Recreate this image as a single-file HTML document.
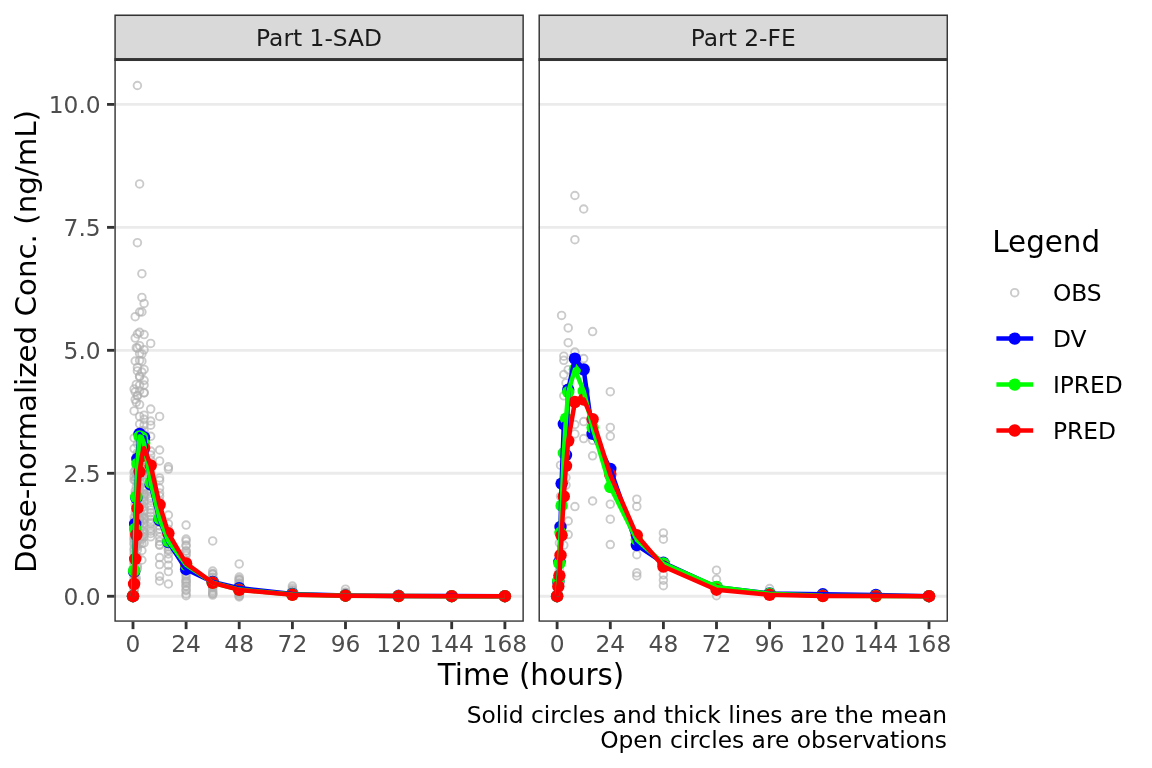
<!DOCTYPE html>
<html><head><meta charset="utf-8"><title>Mean concentration-time profile</title>
<style>html,body{margin:0;padding:0;background:#fff}svg{display:block}text{font-family:"DejaVu Sans","Liberation Sans",sans-serif}</style></head><body>
<svg width="1152" height="768" viewBox="0 0 1152 768">
<rect width="1152" height="768" fill="#fff"/>
<g>
<clipPath id="cp0"><rect x="114.37" y="59.6" width="409.47" height="562.1999999999999"/></clipPath>
<line x1="114.37" x2="523.84" y1="596.25" y2="596.25" stroke="#EBEBEB" stroke-width="2.85"/>
<line x1="114.37" x2="523.84" y1="473.29" y2="473.29" stroke="#EBEBEB" stroke-width="2.85"/>
<line x1="114.37" x2="523.84" y1="350.32" y2="350.32" stroke="#EBEBEB" stroke-width="2.85"/>
<line x1="114.37" x2="523.84" y1="227.36" y2="227.36" stroke="#EBEBEB" stroke-width="2.85"/>
<line x1="114.37" x2="523.84" y1="104.40" y2="104.40" stroke="#EBEBEB" stroke-width="2.85"/>
<g clip-path="url(#cp0)">
<g fill="none" stroke="#B0B0B0" stroke-opacity="0.66" stroke-width="1.9">
<circle cx="133.0" cy="596.0" r="3.8"/>
<circle cx="133.0" cy="596.0" r="3.8"/>
<circle cx="133.0" cy="596.0" r="3.8"/>
<circle cx="134.1" cy="389.1" r="3.8"/>
<circle cx="134.1" cy="410.9" r="3.8"/>
<circle cx="134.1" cy="438.0" r="3.8"/>
<circle cx="134.1" cy="448.6" r="3.8"/>
<circle cx="134.1" cy="476.7" r="3.8"/>
<circle cx="134.1" cy="472.0" r="3.8"/>
<circle cx="134.1" cy="480.0" r="3.8"/>
<circle cx="134.1" cy="517.0" r="3.8"/>
<circle cx="134.1" cy="524.0" r="3.8"/>
<circle cx="134.1" cy="532.0" r="3.8"/>
<circle cx="134.1" cy="540.0" r="3.8"/>
<circle cx="134.1" cy="521.0" r="3.8"/>
<circle cx="134.1" cy="523.5" r="3.8"/>
<circle cx="134.1" cy="528.1" r="3.8"/>
<circle cx="134.1" cy="529.3" r="3.8"/>
<circle cx="134.1" cy="533.8" r="3.8"/>
<circle cx="134.1" cy="536.3" r="3.8"/>
<circle cx="134.1" cy="538.4" r="3.8"/>
<circle cx="134.1" cy="542.8" r="3.8"/>
<circle cx="134.1" cy="544.4" r="3.8"/>
<circle cx="134.1" cy="548.7" r="3.8"/>
<circle cx="134.1" cy="550.6" r="3.8"/>
<circle cx="134.1" cy="553.7" r="3.8"/>
<circle cx="134.1" cy="557.8" r="3.8"/>
<circle cx="134.1" cy="562.0" r="3.8"/>
<circle cx="134.1" cy="562.9" r="3.8"/>
<circle cx="134.1" cy="566.3" r="3.8"/>
<circle cx="134.1" cy="570.5" r="3.8"/>
<circle cx="134.1" cy="574.6" r="3.8"/>
<circle cx="134.1" cy="576.5" r="3.8"/>
<circle cx="134.1" cy="579.0" r="3.8"/>
<circle cx="134.1" cy="583.8" r="3.8"/>
<circle cx="134.1" cy="584.0" r="3.8"/>
<circle cx="134.1" cy="589.5" r="3.8"/>
<circle cx="134.1" cy="590.8" r="3.8"/>
<circle cx="134.1" cy="593.4" r="3.8"/>
<circle cx="135.2" cy="316.7" r="3.8"/>
<circle cx="135.2" cy="338.1" r="3.8"/>
<circle cx="135.2" cy="361.0" r="3.8"/>
<circle cx="135.2" cy="391.8" r="3.8"/>
<circle cx="135.2" cy="399.6" r="3.8"/>
<circle cx="135.2" cy="470.9" r="3.8"/>
<circle cx="135.2" cy="479.8" r="3.8"/>
<circle cx="135.2" cy="491.1" r="3.8"/>
<circle cx="135.2" cy="493.9" r="3.8"/>
<circle cx="135.2" cy="504.4" r="3.8"/>
<circle cx="135.2" cy="512.3" r="3.8"/>
<circle cx="135.2" cy="517.8" r="3.8"/>
<circle cx="135.2" cy="526.6" r="3.8"/>
<circle cx="135.2" cy="530.5" r="3.8"/>
<circle cx="135.2" cy="537.9" r="3.8"/>
<circle cx="135.2" cy="546.5" r="3.8"/>
<circle cx="135.2" cy="557.6" r="3.8"/>
<circle cx="135.2" cy="563.2" r="3.8"/>
<circle cx="135.2" cy="569.9" r="3.8"/>
<circle cx="135.2" cy="579.4" r="3.8"/>
<circle cx="135.2" cy="585.9" r="3.8"/>
<circle cx="136.3" cy="347.7" r="3.8"/>
<circle cx="136.3" cy="384.4" r="3.8"/>
<circle cx="136.3" cy="402.3" r="3.8"/>
<circle cx="136.3" cy="457.1" r="3.8"/>
<circle cx="136.3" cy="467.5" r="3.8"/>
<circle cx="136.3" cy="473.7" r="3.8"/>
<circle cx="136.3" cy="477.5" r="3.8"/>
<circle cx="136.3" cy="486.8" r="3.8"/>
<circle cx="136.3" cy="493.4" r="3.8"/>
<circle cx="136.3" cy="502.7" r="3.8"/>
<circle cx="136.3" cy="508.7" r="3.8"/>
<circle cx="136.3" cy="512.6" r="3.8"/>
<circle cx="136.3" cy="524.3" r="3.8"/>
<circle cx="136.3" cy="525.3" r="3.8"/>
<circle cx="136.3" cy="534.3" r="3.8"/>
<circle cx="136.3" cy="543.6" r="3.8"/>
<circle cx="136.3" cy="546.3" r="3.8"/>
<circle cx="136.3" cy="555.6" r="3.8"/>
<circle cx="136.3" cy="559.4" r="3.8"/>
<circle cx="136.3" cy="570.8" r="3.8"/>
<circle cx="136.3" cy="578.4" r="3.8"/>
<circle cx="137.4" cy="85.5" r="3.8"/>
<circle cx="137.4" cy="242.7" r="3.8"/>
<circle cx="137.4" cy="334.0" r="3.8"/>
<circle cx="137.4" cy="348.1" r="3.8"/>
<circle cx="137.4" cy="367.4" r="3.8"/>
<circle cx="137.4" cy="370.9" r="3.8"/>
<circle cx="137.4" cy="395.5" r="3.8"/>
<circle cx="137.4" cy="395.9" r="3.8"/>
<circle cx="137.4" cy="443.9" r="3.8"/>
<circle cx="137.4" cy="452.7" r="3.8"/>
<circle cx="137.4" cy="455.6" r="3.8"/>
<circle cx="137.4" cy="464.9" r="3.8"/>
<circle cx="137.4" cy="471.0" r="3.8"/>
<circle cx="137.4" cy="477.7" r="3.8"/>
<circle cx="137.4" cy="483.6" r="3.8"/>
<circle cx="137.4" cy="492.9" r="3.8"/>
<circle cx="137.4" cy="500.4" r="3.8"/>
<circle cx="137.4" cy="504.0" r="3.8"/>
<circle cx="137.4" cy="512.0" r="3.8"/>
<circle cx="137.4" cy="514.7" r="3.8"/>
<circle cx="137.4" cy="525.7" r="3.8"/>
<circle cx="137.4" cy="532.1" r="3.8"/>
<circle cx="137.4" cy="541.2" r="3.8"/>
<circle cx="137.4" cy="546.8" r="3.8"/>
<circle cx="137.4" cy="549.9" r="3.8"/>
<circle cx="137.4" cy="557.4" r="3.8"/>
<circle cx="137.4" cy="566.0" r="3.8"/>
<circle cx="137.4" cy="568.4" r="3.8"/>
<circle cx="139.6" cy="183.9" r="3.8"/>
<circle cx="139.6" cy="312.0" r="3.8"/>
<circle cx="139.6" cy="332.3" r="3.8"/>
<circle cx="139.6" cy="345.7" r="3.8"/>
<circle cx="139.6" cy="353.4" r="3.8"/>
<circle cx="139.6" cy="360.4" r="3.8"/>
<circle cx="139.6" cy="376.2" r="3.8"/>
<circle cx="139.6" cy="376.8" r="3.8"/>
<circle cx="139.6" cy="385.0" r="3.8"/>
<circle cx="139.6" cy="390.9" r="3.8"/>
<circle cx="139.6" cy="404.6" r="3.8"/>
<circle cx="139.6" cy="416.4" r="3.8"/>
<circle cx="139.6" cy="424.0" r="3.8"/>
<circle cx="139.6" cy="432.0" r="3.8"/>
<circle cx="139.6" cy="435.2" r="3.8"/>
<circle cx="139.6" cy="439.4" r="3.8"/>
<circle cx="139.6" cy="443.5" r="3.8"/>
<circle cx="139.6" cy="451.1" r="3.8"/>
<circle cx="139.6" cy="452.7" r="3.8"/>
<circle cx="139.6" cy="457.6" r="3.8"/>
<circle cx="139.6" cy="462.7" r="3.8"/>
<circle cx="139.6" cy="469.2" r="3.8"/>
<circle cx="139.6" cy="470.2" r="3.8"/>
<circle cx="139.6" cy="476.2" r="3.8"/>
<circle cx="139.6" cy="481.1" r="3.8"/>
<circle cx="139.6" cy="487.0" r="3.8"/>
<circle cx="139.6" cy="491.1" r="3.8"/>
<circle cx="139.6" cy="495.7" r="3.8"/>
<circle cx="139.6" cy="497.6" r="3.8"/>
<circle cx="139.6" cy="502.6" r="3.8"/>
<circle cx="139.6" cy="506.8" r="3.8"/>
<circle cx="139.6" cy="513.5" r="3.8"/>
<circle cx="139.6" cy="518.3" r="3.8"/>
<circle cx="139.6" cy="519.1" r="3.8"/>
<circle cx="139.6" cy="523.7" r="3.8"/>
<circle cx="139.6" cy="528.3" r="3.8"/>
<circle cx="139.6" cy="532.8" r="3.8"/>
<circle cx="139.6" cy="538.3" r="3.8"/>
<circle cx="139.6" cy="543.2" r="3.8"/>
<circle cx="141.9" cy="273.7" r="3.8"/>
<circle cx="141.9" cy="297.4" r="3.8"/>
<circle cx="141.9" cy="312.0" r="3.8"/>
<circle cx="141.9" cy="353.9" r="3.8"/>
<circle cx="141.9" cy="361.2" r="3.8"/>
<circle cx="141.9" cy="372.1" r="3.8"/>
<circle cx="141.9" cy="550.5" r="3.8"/>
<circle cx="141.9" cy="560.0" r="3.8"/>
<circle cx="141.9" cy="431.2" r="3.8"/>
<circle cx="141.9" cy="434.6" r="3.8"/>
<circle cx="141.9" cy="441.0" r="3.8"/>
<circle cx="141.9" cy="445.3" r="3.8"/>
<circle cx="141.9" cy="450.7" r="3.8"/>
<circle cx="141.9" cy="457.0" r="3.8"/>
<circle cx="141.9" cy="460.4" r="3.8"/>
<circle cx="141.9" cy="464.1" r="3.8"/>
<circle cx="141.9" cy="469.1" r="3.8"/>
<circle cx="141.9" cy="473.9" r="3.8"/>
<circle cx="141.9" cy="475.6" r="3.8"/>
<circle cx="141.9" cy="484.0" r="3.8"/>
<circle cx="141.9" cy="488.0" r="3.8"/>
<circle cx="141.9" cy="493.0" r="3.8"/>
<circle cx="141.9" cy="497.2" r="3.8"/>
<circle cx="141.9" cy="499.9" r="3.8"/>
<circle cx="141.9" cy="504.4" r="3.8"/>
<circle cx="141.9" cy="507.6" r="3.8"/>
<circle cx="141.9" cy="514.6" r="3.8"/>
<circle cx="141.9" cy="516.5" r="3.8"/>
<circle cx="141.9" cy="521.1" r="3.8"/>
<circle cx="141.9" cy="526.3" r="3.8"/>
<circle cx="141.9" cy="530.6" r="3.8"/>
<circle cx="141.9" cy="535.9" r="3.8"/>
<circle cx="141.9" cy="539.2" r="3.8"/>
<circle cx="141.9" cy="543.5" r="3.8"/>
<circle cx="144.1" cy="303.4" r="3.8"/>
<circle cx="144.1" cy="334.6" r="3.8"/>
<circle cx="144.1" cy="349.8" r="3.8"/>
<circle cx="144.1" cy="369.4" r="3.8"/>
<circle cx="144.1" cy="380.3" r="3.8"/>
<circle cx="144.1" cy="385.0" r="3.8"/>
<circle cx="144.1" cy="392.6" r="3.8"/>
<circle cx="144.1" cy="392.9" r="3.8"/>
<circle cx="144.1" cy="415.2" r="3.8"/>
<circle cx="144.1" cy="419.3" r="3.8"/>
<circle cx="144.1" cy="425.0" r="3.8"/>
<circle cx="144.1" cy="430.7" r="3.8"/>
<circle cx="144.1" cy="434.9" r="3.8"/>
<circle cx="144.1" cy="440.5" r="3.8"/>
<circle cx="144.1" cy="443.4" r="3.8"/>
<circle cx="144.1" cy="451.6" r="3.8"/>
<circle cx="144.1" cy="454.8" r="3.8"/>
<circle cx="144.1" cy="457.2" r="3.8"/>
<circle cx="144.1" cy="462.1" r="3.8"/>
<circle cx="144.1" cy="466.9" r="3.8"/>
<circle cx="144.1" cy="471.4" r="3.8"/>
<circle cx="144.1" cy="474.8" r="3.8"/>
<circle cx="144.1" cy="482.4" r="3.8"/>
<circle cx="144.1" cy="487.5" r="3.8"/>
<circle cx="144.1" cy="489.6" r="3.8"/>
<circle cx="144.1" cy="494.1" r="3.8"/>
<circle cx="144.1" cy="496.7" r="3.8"/>
<circle cx="144.1" cy="501.2" r="3.8"/>
<circle cx="144.1" cy="506.7" r="3.8"/>
<circle cx="144.1" cy="510.8" r="3.8"/>
<circle cx="144.1" cy="517.7" r="3.8"/>
<circle cx="144.1" cy="519.2" r="3.8"/>
<circle cx="144.1" cy="523.0" r="3.8"/>
<circle cx="144.1" cy="531.5" r="3.8"/>
<circle cx="144.1" cy="534.1" r="3.8"/>
<circle cx="144.1" cy="536.8" r="3.8"/>
<circle cx="144.1" cy="543.0" r="3.8"/>
<circle cx="150.7" cy="343.4" r="3.8"/>
<circle cx="150.7" cy="409.1" r="3.8"/>
<circle cx="150.7" cy="421.0" r="3.8"/>
<circle cx="150.7" cy="425.2" r="3.8"/>
<circle cx="150.7" cy="436.3" r="3.8"/>
<circle cx="150.7" cy="451.0" r="3.8"/>
<circle cx="150.7" cy="455.0" r="3.8"/>
<circle cx="150.7" cy="460.1" r="3.8"/>
<circle cx="150.7" cy="465.1" r="3.8"/>
<circle cx="150.7" cy="469.9" r="3.8"/>
<circle cx="150.7" cy="472.9" r="3.8"/>
<circle cx="150.7" cy="475.7" r="3.8"/>
<circle cx="150.7" cy="477.5" r="3.8"/>
<circle cx="150.7" cy="481.2" r="3.8"/>
<circle cx="150.7" cy="483.9" r="3.8"/>
<circle cx="150.7" cy="489.2" r="3.8"/>
<circle cx="150.7" cy="491.8" r="3.8"/>
<circle cx="150.7" cy="495.9" r="3.8"/>
<circle cx="150.7" cy="497.8" r="3.8"/>
<circle cx="150.7" cy="500.7" r="3.8"/>
<circle cx="150.7" cy="506.0" r="3.8"/>
<circle cx="150.7" cy="509.9" r="3.8"/>
<circle cx="150.7" cy="512.8" r="3.8"/>
<circle cx="150.7" cy="516.0" r="3.8"/>
<circle cx="150.7" cy="519.4" r="3.8"/>
<circle cx="150.7" cy="522.5" r="3.8"/>
<circle cx="150.7" cy="524.1" r="3.8"/>
<circle cx="150.7" cy="528.4" r="3.8"/>
<circle cx="150.7" cy="531.2" r="3.8"/>
<circle cx="150.7" cy="533.4" r="3.8"/>
<circle cx="150.7" cy="536.8" r="3.8"/>
<circle cx="159.6" cy="416.4" r="3.8"/>
<circle cx="159.6" cy="450.0" r="3.8"/>
<circle cx="159.6" cy="460.9" r="3.8"/>
<circle cx="159.6" cy="477.9" r="3.8"/>
<circle cx="159.6" cy="480.4" r="3.8"/>
<circle cx="159.6" cy="488.0" r="3.8"/>
<circle cx="159.6" cy="545.3" r="3.8"/>
<circle cx="159.6" cy="557.6" r="3.8"/>
<circle cx="159.6" cy="564.6" r="3.8"/>
<circle cx="159.6" cy="576.3" r="3.8"/>
<circle cx="159.6" cy="581.0" r="3.8"/>
<circle cx="159.6" cy="492.9" r="3.8"/>
<circle cx="159.6" cy="496.2" r="3.8"/>
<circle cx="159.6" cy="500.9" r="3.8"/>
<circle cx="159.6" cy="505.1" r="3.8"/>
<circle cx="159.6" cy="506.7" r="3.8"/>
<circle cx="159.6" cy="511.7" r="3.8"/>
<circle cx="159.6" cy="515.1" r="3.8"/>
<circle cx="159.6" cy="518.4" r="3.8"/>
<circle cx="159.6" cy="519.7" r="3.8"/>
<circle cx="159.6" cy="522.5" r="3.8"/>
<circle cx="159.6" cy="525.9" r="3.8"/>
<circle cx="159.6" cy="529.1" r="3.8"/>
<circle cx="159.6" cy="532.4" r="3.8"/>
<circle cx="159.6" cy="537.1" r="3.8"/>
<circle cx="159.6" cy="541.4" r="3.8"/>
<circle cx="159.6" cy="544.5" r="3.8"/>
<circle cx="168.4" cy="466.8" r="3.8"/>
<circle cx="168.4" cy="469.1" r="3.8"/>
<circle cx="168.4" cy="515.0" r="3.8"/>
<circle cx="168.4" cy="523.8" r="3.8"/>
<circle cx="168.4" cy="550.5" r="3.8"/>
<circle cx="168.4" cy="554.0" r="3.8"/>
<circle cx="168.4" cy="558.8" r="3.8"/>
<circle cx="168.4" cy="565.2" r="3.8"/>
<circle cx="168.4" cy="571.6" r="3.8"/>
<circle cx="168.4" cy="584.0" r="3.8"/>
<circle cx="168.4" cy="529.3" r="3.8"/>
<circle cx="168.4" cy="532.5" r="3.8"/>
<circle cx="168.4" cy="535.7" r="3.8"/>
<circle cx="168.4" cy="536.5" r="3.8"/>
<circle cx="168.4" cy="540.8" r="3.8"/>
<circle cx="168.4" cy="544.3" r="3.8"/>
<circle cx="168.4" cy="546.7" r="3.8"/>
<circle cx="168.4" cy="549.3" r="3.8"/>
<circle cx="186.1" cy="525.1" r="3.8"/>
<circle cx="186.1" cy="539.1" r="3.8"/>
<circle cx="186.1" cy="541.0" r="3.8"/>
<circle cx="186.1" cy="545.0" r="3.8"/>
<circle cx="186.1" cy="546.0" r="3.8"/>
<circle cx="186.1" cy="550.9" r="3.8"/>
<circle cx="186.1" cy="551.0" r="3.8"/>
<circle cx="186.1" cy="576.3" r="3.8"/>
<circle cx="186.1" cy="581.0" r="3.8"/>
<circle cx="186.1" cy="585.7" r="3.8"/>
<circle cx="186.1" cy="590.4" r="3.8"/>
<circle cx="186.1" cy="593.9" r="3.8"/>
<circle cx="186.1" cy="553.4" r="3.8"/>
<circle cx="186.1" cy="555.5" r="3.8"/>
<circle cx="186.1" cy="560.4" r="3.8"/>
<circle cx="186.1" cy="562.0" r="3.8"/>
<circle cx="186.1" cy="566.4" r="3.8"/>
<circle cx="186.1" cy="569.9" r="3.8"/>
<circle cx="186.1" cy="571.2" r="3.8"/>
<circle cx="186.1" cy="574.2" r="3.8"/>
<circle cx="186.1" cy="579.2" r="3.8"/>
<circle cx="186.1" cy="581.7" r="3.8"/>
<circle cx="186.1" cy="583.2" r="3.8"/>
<circle cx="186.1" cy="586.4" r="3.8"/>
<circle cx="186.1" cy="589.8" r="3.8"/>
<circle cx="186.1" cy="595.7" r="3.8"/>
<circle cx="212.7" cy="540.9" r="3.8"/>
<circle cx="212.7" cy="571.0" r="3.8"/>
<circle cx="212.7" cy="574.0" r="3.8"/>
<circle cx="212.7" cy="577.0" r="3.8"/>
<circle cx="212.7" cy="580.0" r="3.8"/>
<circle cx="212.7" cy="583.0" r="3.8"/>
<circle cx="212.7" cy="587.0" r="3.8"/>
<circle cx="212.7" cy="590.4" r="3.8"/>
<circle cx="212.7" cy="594.0" r="3.8"/>
<circle cx="212.7" cy="573.6" r="3.8"/>
<circle cx="212.7" cy="574.3" r="3.8"/>
<circle cx="212.7" cy="577.7" r="3.8"/>
<circle cx="212.7" cy="580.0" r="3.8"/>
<circle cx="212.7" cy="581.3" r="3.8"/>
<circle cx="212.7" cy="582.7" r="3.8"/>
<circle cx="212.7" cy="585.1" r="3.8"/>
<circle cx="212.7" cy="586.3" r="3.8"/>
<circle cx="212.7" cy="588.0" r="3.8"/>
<circle cx="212.7" cy="591.9" r="3.8"/>
<circle cx="212.7" cy="593.3" r="3.8"/>
<circle cx="212.7" cy="595.1" r="3.8"/>
<circle cx="239.2" cy="563.9" r="3.8"/>
<circle cx="239.2" cy="577.0" r="3.8"/>
<circle cx="239.2" cy="579.0" r="3.8"/>
<circle cx="239.2" cy="583.0" r="3.8"/>
<circle cx="239.2" cy="587.0" r="3.8"/>
<circle cx="239.2" cy="590.0" r="3.8"/>
<circle cx="239.2" cy="593.0" r="3.8"/>
<circle cx="239.2" cy="595.5" r="3.8"/>
<circle cx="239.2" cy="597.0" r="3.8"/>
<circle cx="239.2" cy="579.6" r="3.8"/>
<circle cx="239.2" cy="580.5" r="3.8"/>
<circle cx="239.2" cy="583.0" r="3.8"/>
<circle cx="239.2" cy="584.6" r="3.8"/>
<circle cx="239.2" cy="585.3" r="3.8"/>
<circle cx="239.2" cy="587.1" r="3.8"/>
<circle cx="239.2" cy="588.9" r="3.8"/>
<circle cx="239.2" cy="590.5" r="3.8"/>
<circle cx="239.2" cy="592.8" r="3.8"/>
<circle cx="239.2" cy="594.0" r="3.8"/>
<circle cx="239.2" cy="596.0" r="3.8"/>
<circle cx="292.4" cy="586.1" r="3.8"/>
<circle cx="292.4" cy="590.0" r="3.8"/>
<circle cx="292.4" cy="593.0" r="3.8"/>
<circle cx="292.4" cy="595.0" r="3.8"/>
<circle cx="292.4" cy="588.2" r="3.8"/>
<circle cx="292.4" cy="590.3" r="3.8"/>
<circle cx="292.4" cy="590.9" r="3.8"/>
<circle cx="292.4" cy="592.2" r="3.8"/>
<circle cx="292.4" cy="593.6" r="3.8"/>
<circle cx="292.4" cy="595.2" r="3.8"/>
<circle cx="292.4" cy="595.8" r="3.8"/>
<circle cx="345.5" cy="589.2" r="3.8"/>
<circle cx="345.5" cy="593.0" r="3.8"/>
<circle cx="345.5" cy="595.5" r="3.8"/>
<circle cx="345.5" cy="592.0" r="3.8"/>
<circle cx="345.5" cy="592.7" r="3.8"/>
<circle cx="345.5" cy="593.8" r="3.8"/>
<circle cx="345.5" cy="594.9" r="3.8"/>
<circle cx="345.5" cy="595.4" r="3.8"/>
<circle cx="398.6" cy="594.5" r="3.8"/>
<circle cx="398.6" cy="596.0" r="3.8"/>
<circle cx="398.6" cy="594.2" r="3.8"/>
<circle cx="398.6" cy="594.5" r="3.8"/>
<circle cx="398.6" cy="594.8" r="3.8"/>
<circle cx="398.6" cy="595.6" r="3.8"/>
<circle cx="398.6" cy="595.7" r="3.8"/>
<circle cx="398.6" cy="596.3" r="3.8"/>
<circle cx="451.7" cy="596.0" r="3.8"/>
<circle cx="451.7" cy="595.2" r="3.8"/>
<circle cx="451.7" cy="595.5" r="3.8"/>
<circle cx="451.7" cy="595.7" r="3.8"/>
<circle cx="451.7" cy="596.1" r="3.8"/>
<circle cx="451.7" cy="596.4" r="3.8"/>
<circle cx="504.9" cy="596.0" r="3.8"/>
<circle cx="504.9" cy="595.7" r="3.8"/>
<circle cx="504.9" cy="595.8" r="3.8"/>
<circle cx="504.9" cy="596.1" r="3.8"/>
<circle cx="504.9" cy="596.3" r="3.8"/>
</g>
<g fill="#0000FF">
<circle cx="133.0" cy="596.2" r="6.2"/>
<circle cx="134.1" cy="571.7" r="6.2"/>
<circle cx="135.2" cy="523.9" r="6.2"/>
<circle cx="136.3" cy="497.9" r="6.2"/>
<circle cx="137.4" cy="459.0" r="6.2"/>
<circle cx="139.6" cy="433.9" r="6.2"/>
<circle cx="141.9" cy="437.9" r="6.2"/>
<circle cx="144.1" cy="437.4" r="6.2"/>
<circle cx="150.7" cy="484.6" r="6.2"/>
<circle cx="159.6" cy="520.0" r="6.2"/>
<circle cx="168.4" cy="542.1" r="6.2"/>
<circle cx="186.1" cy="569.2" r="6.2"/>
<circle cx="212.7" cy="582.0" r="6.2"/>
<circle cx="239.2" cy="588.1" r="6.2"/>
<circle cx="292.4" cy="594.0" r="6.2"/>
<circle cx="345.5" cy="595.5" r="6.2"/>
<circle cx="398.6" cy="595.9" r="6.2"/>
<circle cx="451.7" cy="596.1" r="6.2"/>
<circle cx="504.9" cy="596.2" r="6.2"/>
</g>
<g fill="#00FF00">
<circle cx="133.0" cy="596.2" r="6.2"/>
<circle cx="134.1" cy="570.7" r="6.2"/>
<circle cx="135.2" cy="528.9" r="6.2"/>
<circle cx="136.3" cy="496.9" r="6.2"/>
<circle cx="137.4" cy="463.9" r="6.2"/>
<circle cx="139.6" cy="436.4" r="6.2"/>
<circle cx="141.9" cy="437.4" r="6.2"/>
<circle cx="144.1" cy="443.8" r="6.2"/>
<circle cx="150.7" cy="482.6" r="6.2"/>
<circle cx="159.6" cy="518.5" r="6.2"/>
<circle cx="168.4" cy="541.2" r="6.2"/>
<circle cx="186.1" cy="564.8" r="6.2"/>
<circle cx="212.7" cy="582.7" r="6.2"/>
<circle cx="239.2" cy="589.6" r="6.2"/>
<circle cx="292.4" cy="594.5" r="6.2"/>
<circle cx="345.5" cy="595.7" r="6.2"/>
<circle cx="398.6" cy="596.1" r="6.2"/>
<circle cx="451.7" cy="596.2" r="6.2"/>
<circle cx="504.9" cy="596.2" r="6.2"/>
</g>
<g fill="#FF0000">
<circle cx="133.0" cy="596.2" r="6.2"/>
<circle cx="134.1" cy="584.0" r="6.2"/>
<circle cx="135.2" cy="558.9" r="6.2"/>
<circle cx="136.3" cy="535.0" r="6.2"/>
<circle cx="137.4" cy="508.2" r="6.2"/>
<circle cx="139.6" cy="471.8" r="6.2"/>
<circle cx="141.9" cy="456.1" r="6.2"/>
<circle cx="144.1" cy="448.2" r="6.2"/>
<circle cx="150.7" cy="465.4" r="6.2"/>
<circle cx="159.6" cy="504.8" r="6.2"/>
<circle cx="168.4" cy="533.3" r="6.2"/>
<circle cx="186.1" cy="563.4" r="6.2"/>
<circle cx="212.7" cy="582.8" r="6.2"/>
<circle cx="239.2" cy="589.9" r="6.2"/>
<circle cx="292.4" cy="594.8" r="6.2"/>
<circle cx="345.5" cy="595.7" r="6.2"/>
<circle cx="398.6" cy="596.1" r="6.2"/>
<circle cx="451.7" cy="596.2" r="6.2"/>
<circle cx="504.9" cy="596.2" r="6.2"/>
</g>
<polyline points="133.0,596.2 134.1,571.7 135.2,523.9 136.3,497.9 137.4,459.0 139.6,433.9 141.9,437.9 144.1,437.4 150.7,484.6 159.6,520.0 168.4,542.1 186.1,569.2 212.7,582.0 239.2,588.1 292.4,594.0 345.5,595.5 398.6,595.9 451.7,596.1 504.9,596.2" fill="none" stroke="#0000FF" stroke-width="4.5" stroke-linejoin="round" stroke-linecap="butt"/>
<polyline points="133.0,596.2 134.1,570.7 135.2,528.9 136.3,496.9 137.4,463.9 139.6,436.4 141.9,437.4 144.1,443.8 150.7,482.6 159.6,518.5 168.4,541.2 186.1,564.8 212.7,582.7 239.2,589.6 292.4,594.5 345.5,595.7 398.6,596.1 451.7,596.2 504.9,596.2" fill="none" stroke="#00FF00" stroke-width="4.5" stroke-linejoin="round" stroke-linecap="butt"/>
<polyline points="133.0,596.2 134.1,584.0 135.2,558.9 136.3,535.0 137.4,508.2 139.6,471.8 141.9,456.1 144.1,448.2 150.7,465.4 159.6,504.8 168.4,533.3 186.1,563.4 212.7,582.8 239.2,589.9 292.4,594.8 345.5,595.7 398.6,596.1 451.7,596.2 504.9,596.2" fill="none" stroke="#FF0000" stroke-width="4.5" stroke-linejoin="round" stroke-linecap="butt"/>
</g>
<rect x="114.37" y="59.6" width="409.47" height="562.1999999999999" fill="none" stroke="#333" stroke-width="2.85" clip-path="url(#cp0)"/>
<clipPath id="cs0"><rect x="114.37" y="14.6" width="409.47" height="45.0"/></clipPath>
<rect x="114.37" y="14.6" width="409.47" height="45.0" fill="#D9D9D9" stroke="#333" stroke-width="2.85" clip-path="url(#cs0)"/>
<line x1="114.37" x2="523.84" y1="59.6" y2="59.6" stroke="#333" stroke-width="2.85"/>
<text x="319.1" y="46.3" font-size="23.35" fill="#1A1A1A" text-anchor="middle">Part 1-SAD</text>
<line x1="133.0" x2="133.0" y1="621.8" y2="629.13" stroke="#333" stroke-width="2.85"/>
<text x="133.0" y="651.5" font-size="23.35" fill="#4D4D4D" text-anchor="middle">0</text>
<line x1="186.1" x2="186.1" y1="621.8" y2="629.13" stroke="#333" stroke-width="2.85"/>
<text x="186.1" y="651.5" font-size="23.35" fill="#4D4D4D" text-anchor="middle">24</text>
<line x1="239.2" x2="239.2" y1="621.8" y2="629.13" stroke="#333" stroke-width="2.85"/>
<text x="239.2" y="651.5" font-size="23.35" fill="#4D4D4D" text-anchor="middle">48</text>
<line x1="292.4" x2="292.4" y1="621.8" y2="629.13" stroke="#333" stroke-width="2.85"/>
<text x="292.4" y="651.5" font-size="23.35" fill="#4D4D4D" text-anchor="middle">72</text>
<line x1="345.5" x2="345.5" y1="621.8" y2="629.13" stroke="#333" stroke-width="2.85"/>
<text x="345.5" y="651.5" font-size="23.35" fill="#4D4D4D" text-anchor="middle">96</text>
<line x1="398.6" x2="398.6" y1="621.8" y2="629.13" stroke="#333" stroke-width="2.85"/>
<text x="398.6" y="651.5" font-size="23.35" fill="#4D4D4D" text-anchor="middle">120</text>
<line x1="451.7" x2="451.7" y1="621.8" y2="629.13" stroke="#333" stroke-width="2.85"/>
<text x="451.7" y="651.5" font-size="23.35" fill="#4D4D4D" text-anchor="middle">144</text>
<line x1="504.9" x2="504.9" y1="621.8" y2="629.13" stroke="#333" stroke-width="2.85"/>
<text x="504.9" y="651.5" font-size="23.35" fill="#4D4D4D" text-anchor="middle">168</text>
</g>
<g>
<clipPath id="cp1"><rect x="538.5" y="59.6" width="409.47" height="562.1999999999999"/></clipPath>
<line x1="538.5" x2="947.97" y1="596.25" y2="596.25" stroke="#EBEBEB" stroke-width="2.85"/>
<line x1="538.5" x2="947.97" y1="473.29" y2="473.29" stroke="#EBEBEB" stroke-width="2.85"/>
<line x1="538.5" x2="947.97" y1="350.32" y2="350.32" stroke="#EBEBEB" stroke-width="2.85"/>
<line x1="538.5" x2="947.97" y1="227.36" y2="227.36" stroke="#EBEBEB" stroke-width="2.85"/>
<line x1="538.5" x2="947.97" y1="104.40" y2="104.40" stroke="#EBEBEB" stroke-width="2.85"/>
<g clip-path="url(#cp1)">
<g fill="none" stroke="#B0B0B0" stroke-opacity="0.66" stroke-width="1.9">
<circle cx="557.1" cy="596.0" r="3.8"/>
<circle cx="557.1" cy="596.0" r="3.8"/>
<circle cx="558.3" cy="580.0" r="3.8"/>
<circle cx="558.3" cy="588.0" r="3.8"/>
<circle cx="558.3" cy="592.0" r="3.8"/>
<circle cx="558.3" cy="594.0" r="3.8"/>
<circle cx="559.4" cy="542.9" r="3.8"/>
<circle cx="559.4" cy="570.0" r="3.8"/>
<circle cx="559.4" cy="575.0" r="3.8"/>
<circle cx="559.4" cy="583.0" r="3.8"/>
<circle cx="560.5" cy="465.2" r="3.8"/>
<circle cx="560.5" cy="496.3" r="3.8"/>
<circle cx="561.6" cy="315.4" r="3.8"/>
<circle cx="563.8" cy="356.2" r="3.8"/>
<circle cx="563.8" cy="360.3" r="3.8"/>
<circle cx="563.8" cy="374.5" r="3.8"/>
<circle cx="563.8" cy="395.8" r="3.8"/>
<circle cx="563.8" cy="545.2" r="3.8"/>
<circle cx="566.0" cy="382.9" r="3.8"/>
<circle cx="566.0" cy="477.5" r="3.8"/>
<circle cx="566.0" cy="485.1" r="3.8"/>
<circle cx="568.2" cy="327.9" r="3.8"/>
<circle cx="568.2" cy="342.7" r="3.8"/>
<circle cx="568.2" cy="369.7" r="3.8"/>
<circle cx="568.2" cy="521.0" r="3.8"/>
<circle cx="568.2" cy="534.6" r="3.8"/>
<circle cx="574.9" cy="195.5" r="3.8"/>
<circle cx="574.9" cy="239.7" r="3.8"/>
<circle cx="574.9" cy="352.1" r="3.8"/>
<circle cx="574.9" cy="424.5" r="3.8"/>
<circle cx="574.9" cy="433.9" r="3.8"/>
<circle cx="574.9" cy="506.6" r="3.8"/>
<circle cx="583.7" cy="209.0" r="3.8"/>
<circle cx="583.7" cy="358.6" r="3.8"/>
<circle cx="583.7" cy="421.6" r="3.8"/>
<circle cx="583.7" cy="438.6" r="3.8"/>
<circle cx="592.6" cy="331.6" r="3.8"/>
<circle cx="592.6" cy="440.3" r="3.8"/>
<circle cx="592.6" cy="455.8" r="3.8"/>
<circle cx="592.6" cy="501.0" r="3.8"/>
<circle cx="610.3" cy="391.7" r="3.8"/>
<circle cx="610.3" cy="427.4" r="3.8"/>
<circle cx="610.3" cy="436.2" r="3.8"/>
<circle cx="610.3" cy="504.2" r="3.8"/>
<circle cx="610.3" cy="519.2" r="3.8"/>
<circle cx="610.3" cy="544.6" r="3.8"/>
<circle cx="636.8" cy="499.2" r="3.8"/>
<circle cx="636.8" cy="506.4" r="3.8"/>
<circle cx="636.8" cy="554.7" r="3.8"/>
<circle cx="636.8" cy="572.8" r="3.8"/>
<circle cx="636.8" cy="576.0" r="3.8"/>
<circle cx="663.4" cy="532.9" r="3.8"/>
<circle cx="663.4" cy="539.2" r="3.8"/>
<circle cx="663.4" cy="574.8" r="3.8"/>
<circle cx="663.4" cy="580.2" r="3.8"/>
<circle cx="663.4" cy="585.7" r="3.8"/>
<circle cx="716.5" cy="570.2" r="3.8"/>
<circle cx="716.5" cy="579.3" r="3.8"/>
<circle cx="716.5" cy="595.7" r="3.8"/>
<circle cx="769.6" cy="588.5" r="3.8"/>
</g>
<g fill="#0000FF">
<circle cx="557.1" cy="596.2" r="6.2"/>
<circle cx="558.3" cy="582.0" r="6.2"/>
<circle cx="559.4" cy="561.8" r="6.2"/>
<circle cx="560.5" cy="526.9" r="6.2"/>
<circle cx="561.6" cy="483.6" r="6.2"/>
<circle cx="563.8" cy="424.1" r="6.2"/>
<circle cx="566.0" cy="455.1" r="6.2"/>
<circle cx="568.2" cy="389.7" r="6.2"/>
<circle cx="574.9" cy="358.7" r="6.2"/>
<circle cx="583.7" cy="369.5" r="6.2"/>
<circle cx="592.6" cy="433.9" r="6.2"/>
<circle cx="610.3" cy="468.9" r="6.2"/>
<circle cx="636.8" cy="545.1" r="6.2"/>
<circle cx="663.4" cy="562.8" r="6.2"/>
<circle cx="716.5" cy="587.2" r="6.2"/>
<circle cx="769.6" cy="593.5" r="6.2"/>
<circle cx="822.8" cy="594.3" r="6.2"/>
<circle cx="875.9" cy="594.9" r="6.2"/>
<circle cx="929.0" cy="596.2" r="6.2"/>
</g>
<g fill="#00FF00">
<circle cx="557.1" cy="596.2" r="6.2"/>
<circle cx="558.3" cy="581.0" r="6.2"/>
<circle cx="559.4" cy="563.3" r="6.2"/>
<circle cx="560.5" cy="532.8" r="6.2"/>
<circle cx="561.6" cy="505.7" r="6.2"/>
<circle cx="563.8" cy="453.1" r="6.2"/>
<circle cx="566.0" cy="418.7" r="6.2"/>
<circle cx="568.2" cy="392.1" r="6.2"/>
<circle cx="574.9" cy="369.5" r="6.2"/>
<circle cx="583.7" cy="391.1" r="6.2"/>
<circle cx="592.6" cy="427.5" r="6.2"/>
<circle cx="610.3" cy="487.1" r="6.2"/>
<circle cx="636.8" cy="539.7" r="6.2"/>
<circle cx="663.4" cy="563.5" r="6.2"/>
<circle cx="716.5" cy="586.9" r="6.2"/>
<circle cx="769.6" cy="593.8" r="6.2"/>
<circle cx="822.8" cy="595.8" r="6.2"/>
<circle cx="875.9" cy="596.0" r="6.2"/>
<circle cx="929.0" cy="596.2" r="6.2"/>
</g>
<g fill="#FF0000">
<circle cx="557.1" cy="596.2" r="6.2"/>
<circle cx="558.3" cy="586.4" r="6.2"/>
<circle cx="559.4" cy="575.6" r="6.2"/>
<circle cx="560.5" cy="555.2" r="6.2"/>
<circle cx="561.6" cy="535.3" r="6.2"/>
<circle cx="563.8" cy="496.4" r="6.2"/>
<circle cx="566.0" cy="465.9" r="6.2"/>
<circle cx="568.2" cy="440.8" r="6.2"/>
<circle cx="574.9" cy="402.0" r="6.2"/>
<circle cx="583.7" cy="399.5" r="6.2"/>
<circle cx="592.6" cy="419.2" r="6.2"/>
<circle cx="610.3" cy="474.8" r="6.2"/>
<circle cx="636.8" cy="535.3" r="6.2"/>
<circle cx="663.4" cy="566.5" r="6.2"/>
<circle cx="716.5" cy="589.7" r="6.2"/>
<circle cx="769.6" cy="594.8" r="6.2"/>
<circle cx="822.8" cy="596.0" r="6.2"/>
<circle cx="875.9" cy="596.1" r="6.2"/>
<circle cx="929.0" cy="596.2" r="6.2"/>
</g>
<polyline points="557.1,596.2 558.3,582.0 559.4,561.8 560.5,526.9 561.6,483.6 563.8,424.1 566.0,455.1 568.2,389.7 574.9,358.7 583.7,369.5 592.6,433.9 610.3,468.9 636.8,545.1 663.4,562.8 716.5,587.2 769.6,593.5 822.8,594.3 875.9,594.9 929.0,596.2" fill="none" stroke="#0000FF" stroke-width="4.5" stroke-linejoin="round" stroke-linecap="butt"/>
<polyline points="557.1,596.2 558.3,581.0 559.4,563.3 560.5,532.8 561.6,505.7 563.8,453.1 566.0,418.7 568.2,392.1 574.9,369.5 583.7,391.1 592.6,427.5 610.3,487.1 636.8,539.7 663.4,563.5 716.5,586.9 769.6,593.8 822.8,595.8 875.9,596.0 929.0,596.2" fill="none" stroke="#00FF00" stroke-width="4.5" stroke-linejoin="round" stroke-linecap="butt"/>
<polyline points="557.1,596.2 558.3,586.4 559.4,575.6 560.5,555.2 561.6,535.3 563.8,496.4 566.0,465.9 568.2,440.8 574.9,402.0 583.7,399.5 592.6,419.2 610.3,474.8 636.8,535.3 663.4,566.5 716.5,589.7 769.6,594.8 822.8,596.0 875.9,596.1 929.0,596.2" fill="none" stroke="#FF0000" stroke-width="4.5" stroke-linejoin="round" stroke-linecap="butt"/>
</g>
<rect x="538.5" y="59.6" width="409.47" height="562.1999999999999" fill="none" stroke="#333" stroke-width="2.85" clip-path="url(#cp1)"/>
<clipPath id="cs1"><rect x="538.5" y="14.6" width="409.47" height="45.0"/></clipPath>
<rect x="538.5" y="14.6" width="409.47" height="45.0" fill="#D9D9D9" stroke="#333" stroke-width="2.85" clip-path="url(#cs1)"/>
<line x1="538.5" x2="947.97" y1="59.6" y2="59.6" stroke="#333" stroke-width="2.85"/>
<text x="743.2" y="46.3" font-size="23.35" fill="#1A1A1A" text-anchor="middle">Part 2-FE</text>
<line x1="557.1" x2="557.1" y1="621.8" y2="629.13" stroke="#333" stroke-width="2.85"/>
<text x="557.1" y="651.5" font-size="23.35" fill="#4D4D4D" text-anchor="middle">0</text>
<line x1="610.3" x2="610.3" y1="621.8" y2="629.13" stroke="#333" stroke-width="2.85"/>
<text x="610.3" y="651.5" font-size="23.35" fill="#4D4D4D" text-anchor="middle">24</text>
<line x1="663.4" x2="663.4" y1="621.8" y2="629.13" stroke="#333" stroke-width="2.85"/>
<text x="663.4" y="651.5" font-size="23.35" fill="#4D4D4D" text-anchor="middle">48</text>
<line x1="716.5" x2="716.5" y1="621.8" y2="629.13" stroke="#333" stroke-width="2.85"/>
<text x="716.5" y="651.5" font-size="23.35" fill="#4D4D4D" text-anchor="middle">72</text>
<line x1="769.6" x2="769.6" y1="621.8" y2="629.13" stroke="#333" stroke-width="2.85"/>
<text x="769.6" y="651.5" font-size="23.35" fill="#4D4D4D" text-anchor="middle">96</text>
<line x1="822.8" x2="822.8" y1="621.8" y2="629.13" stroke="#333" stroke-width="2.85"/>
<text x="822.8" y="651.5" font-size="23.35" fill="#4D4D4D" text-anchor="middle">120</text>
<line x1="875.9" x2="875.9" y1="621.8" y2="629.13" stroke="#333" stroke-width="2.85"/>
<text x="875.9" y="651.5" font-size="23.35" fill="#4D4D4D" text-anchor="middle">144</text>
<line x1="929.0" x2="929.0" y1="621.8" y2="629.13" stroke="#333" stroke-width="2.85"/>
<text x="929.0" y="651.5" font-size="23.35" fill="#4D4D4D" text-anchor="middle">168</text>
</g>
<line x1="107.04" x2="114.37" y1="596.25" y2="596.25" stroke="#333" stroke-width="2.85"/>
<text x="100.7" y="604.6" font-size="23.35" fill="#4D4D4D" text-anchor="end">0.0</text>
<line x1="107.04" x2="114.37" y1="473.29" y2="473.29" stroke="#333" stroke-width="2.85"/>
<text x="100.7" y="481.7" font-size="23.35" fill="#4D4D4D" text-anchor="end">2.5</text>
<line x1="107.04" x2="114.37" y1="350.32" y2="350.32" stroke="#333" stroke-width="2.85"/>
<text x="100.7" y="358.7" font-size="23.35" fill="#4D4D4D" text-anchor="end">5.0</text>
<line x1="107.04" x2="114.37" y1="227.36" y2="227.36" stroke="#333" stroke-width="2.85"/>
<text x="100.7" y="235.8" font-size="23.35" fill="#4D4D4D" text-anchor="end">7.5</text>
<line x1="107.04" x2="114.37" y1="104.40" y2="104.40" stroke="#333" stroke-width="2.85"/>
<text x="100.7" y="112.8" font-size="23.35" fill="#4D4D4D" text-anchor="end">10.0</text>
<text x="531" y="684.6" font-size="29.33" fill="#000" text-anchor="middle">Time (hours)</text>
<text transform="translate(36.2,341.5) rotate(-90) scale(1,0.945)" font-size="29.33" fill="#000" text-anchor="middle">Dose-normalized Conc. (ng/mL)</text>
<text x="947" y="723.2" font-size="23.35" fill="#000" text-anchor="end">Solid circles and thick lines are the mean</text>
<text x="947" y="748.0" font-size="23.35" fill="#000" text-anchor="end">Open circles are observations</text>
<text x="992.3" y="252" font-size="29.33" fill="#000">Legend</text>
<circle cx="1014.7" cy="292.7" r="3.8" fill="none" stroke="#B0B0B0" stroke-opacity="0.66" stroke-width="1.9"/>
<text x="1052.9" y="301.2" font-size="23.35" fill="#000">OBS</text>
<line x1="996.4" x2="1033.2" y1="338.6" y2="338.6" stroke="#0000FF" stroke-width="4.5"/>
<circle cx="1014.7" cy="338.6" r="6.2" fill="#0000FF"/>
<text x="1052.9" y="347.1" font-size="23.35" fill="#000">DV</text>
<line x1="996.4" x2="1033.2" y1="384.6" y2="384.6" stroke="#00FF00" stroke-width="4.5"/>
<circle cx="1014.7" cy="384.6" r="6.2" fill="#00FF00"/>
<text x="1052.9" y="393.1" font-size="23.35" fill="#000">IPRED</text>
<line x1="996.4" x2="1033.2" y1="430.5" y2="430.5" stroke="#FF0000" stroke-width="4.5"/>
<circle cx="1014.7" cy="430.5" r="6.2" fill="#FF0000"/>
<text x="1052.9" y="439.0" font-size="23.35" fill="#000">PRED</text>
</svg></body></html>
